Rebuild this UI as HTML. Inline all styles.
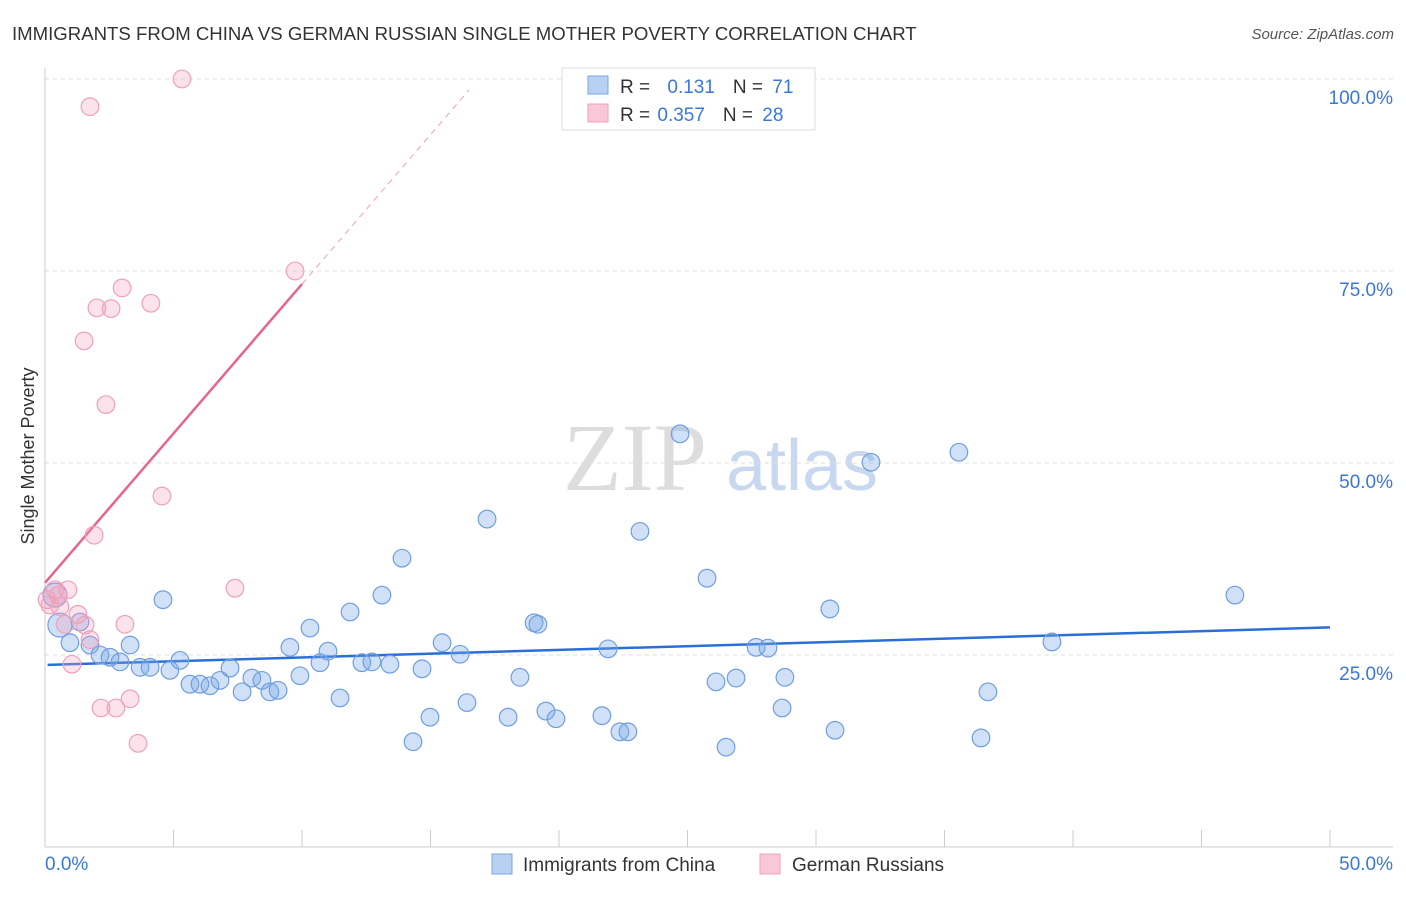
<!DOCTYPE html>
<html><head><meta charset="utf-8"><style>
body{margin:0;background:#fff;font-family:"Liberation Sans",sans-serif;}
</style></head><body>
<svg id="chart" width="1406" height="892" font-family="Liberation Sans, sans-serif">
<text x="12" y="40" font-size="18.6" fill="#333">IMMIGRANTS FROM CHINA VS GERMAN RUSSIAN SINGLE MOTHER POVERTY CORRELATION CHART</text>
<text x="1394" y="39" font-size="15" fill="#555" font-style="italic" text-anchor="end">Source: ZipAtlas.com</text>
<text x="0" y="0" transform="translate(34,456) rotate(-90)" font-size="18" fill="#333" text-anchor="middle">Single Mother Poverty</text>
<g><text x="635" y="490" font-size="96" fill="#ddd" style="font-family:'Liberation Serif',serif" text-anchor="middle">ZIP</text><text x="802" y="490" font-size="72" fill="#c8d8f0" text-anchor="middle">atlas</text></g>
<g id="grid"></g><g id="axes"></g><g id="lines"></g><g id="pts"></g>
<g>
<rect x="562" y="68" width="253" height="62" fill="#fff" stroke="#ddd"/>
<rect x="588" y="76" width="20" height="18" fill="#b8d0f2" stroke="#7aa7e0"/>
<rect x="588" y="104" width="20" height="18" fill="#f8c8d8" stroke="#f0a0bb"/>
<text x="620" y="93" font-size="19" fill="#333">R = <tspan fill="#3a78d8" dx="12">0.131</tspan><tspan dx="18" fill="#333">N = </tspan><tspan fill="#3a78d8" dx="4">71</tspan></text>
<text x="620" y="121" font-size="19" fill="#333">R = <tspan fill="#3a78d8" dx="2">0.357</tspan><tspan dx="18" fill="#333">N = </tspan><tspan fill="#3a78d8" dx="4">28</tspan></text>
</g>
<g>
<rect x="492" y="854" width="20" height="20" fill="#b8d0f2" stroke="#7aa7e0"/>
<text x="523" y="871" font-size="19" fill="#333">Immigrants from China</text>
<rect x="760" y="854" width="20" height="20" fill="#f8c8d8" stroke="#f0a0bb"/>
<text x="792" y="871" font-size="19" fill="#333">German Russians</text>
</g>
</svg>
<script>
const yTicks=[25,50,75,100];
const yTickLabels=["25.0%","50.0%","75.0%","100.0%"];
const xTickLabels=["0.0%","50.0%"];
const chinaX=[0.39,0.58,0.97,1.36,1.75,2.14,2.53,2.92,3.31,3.70,4.09,4.59,4.86,5.25,5.64,6.03,6.42,6.81,7.20,7.67,8.05,8.44,8.75,9.07,9.53,9.92,10.31,10.70,11.01,11.48,11.87,12.33,12.72,13.11,13.42,13.89,14.32,14.67,14.98,15.45,16.15,16.42,17.20,18.02,18.48,19.03,19.18,19.49,19.88,21.67,21.91,22.37,22.68,23.15,24.71,25.76,26.11,26.50,26.89,27.67,28.13,28.68,28.79,30.54,30.74,32.14,35.56,36.42,36.69,39.18,46.30];
const chinaY=[32.8,28.9,26.6,29.3,26.3,25.0,24.7,24.1,26.3,23.4,23.4,32.2,23.0,24.3,21.2,21.2,21.0,21.7,23.3,20.2,22.0,21.7,20.2,20.4,26.0,22.3,28.5,24.0,25.5,19.4,30.6,24.0,24.1,32.8,23.8,37.6,13.7,23.2,16.9,26.6,25.1,18.8,42.7,16.9,22.1,29.2,29.0,17.7,16.7,17.1,25.8,15.0,15.0,41.1,53.8,35.0,21.5,13.0,22.0,26.0,25.9,18.1,22.1,31.0,15.2,50.1,51.4,14.2,20.2,26.7,32.8];
const germanX=[5.33,1.75,9.73,3.00,4.12,2.02,2.57,1.52,2.37,4.55,1.91,7.39,0.39,0.89,0.19,0.58,1.28,3.11,1.75,1.05,3.31,2.18,2.76,3.62,0.78,0.08,1.56,0.51];
const germanY=[100,96.4,75.0,72.8,70.8,70.2,70.1,65.9,57.6,45.7,40.6,33.7,33.5,33.5,31.5,31.3,30.3,29.0,27.0,23.8,19.3,18.1,18.1,13.5,29.0,32.2,28.9,32.8];
const chinaTrend=[23.7,28.6];
const germanTrend=[34.4,3.89];
const NS="http://www.w3.org/2000/svg";
const X=v=>45+v*25.7, Y=v=>847-v*7.68;
function mk(p,t,a){const e=document.createElementNS(NS,t);for(const k in a)e.setAttribute(k,a[k]);document.getElementById(p).appendChild(e);return e;}
yTicks.forEach((t,i)=>{
 const g=mk('grid','line',{x1:45,x2:1393,y1:Y(t),y2:Y(t),stroke:'#ddd','stroke-dasharray':'4,4'});
 
 
 const l=mk('axes','text',{x:1393,y:Y(t)+25,'font-size':19,fill:'#3a78d8','text-anchor':'end'});l.textContent=yTickLabels[i];
 
 
});
const ax=mk('axes','line',{x1:45,x2:45,y1:68,y2:847,stroke:'#ccc'});


const bx=mk('axes','line',{x1:45,x2:1393,y1:847,y2:847,stroke:'#ccc'});


for(let i=0;i<=10;i++){const t=mk('axes','line',{x1:X(i*5),x2:X(i*5),y1:830,y2:847,stroke:'#ccc'});
 
 }
[[0,45,'start'],[1,1393,'end']].forEach(([i,x,a])=>{const t=mk('axes','text',{x:x,y:870,'font-size':19,fill:'#3a78d8','text-anchor':a});t.textContent=xTickLabels[i];
 
 });
const bl=mk('lines','line',{x1:X(0.1),x2:X(50),y1:Y(chinaTrend[0]+(chinaTrend[1]-chinaTrend[0])*0.002),y2:Y(chinaTrend[1]),stroke:'#2a6fd6','stroke-width':2.5});


const pl=mk('lines','line',{x1:X(0),x2:X(10),y1:Y(germanTrend[0]),y2:Y(germanTrend[0]+germanTrend[1]*10),stroke:'#e8648e','stroke-width':2.5});


const pd=mk('lines','line',{x1:X(10),x2:X(16.5),y1:Y(germanTrend[0]+germanTrend[1]*10),y2:Y(germanTrend[0]+germanTrend[1]*16.5),stroke:'#f0a0bb','stroke-width':1,'stroke-dasharray':'6,5'});


chinaX.forEach((x,i)=>{const c=mk('pts','circle',{cx:X(x),cy:Y(chinaY[i]),r:i<2?12:8.8,fill:'rgba(120,165,230,0.35)',stroke:'#6f9fe0','stroke-width':1.2});
 
 });
germanX.forEach((x,i)=>{const c=mk('pts','circle',{cx:X(x),cy:Y(germanY[i]),r:8.8,fill:'rgba(245,160,190,0.3)',stroke:'#f0a0bb','stroke-width':1.2});
 
 });
</script>
</body></html>
